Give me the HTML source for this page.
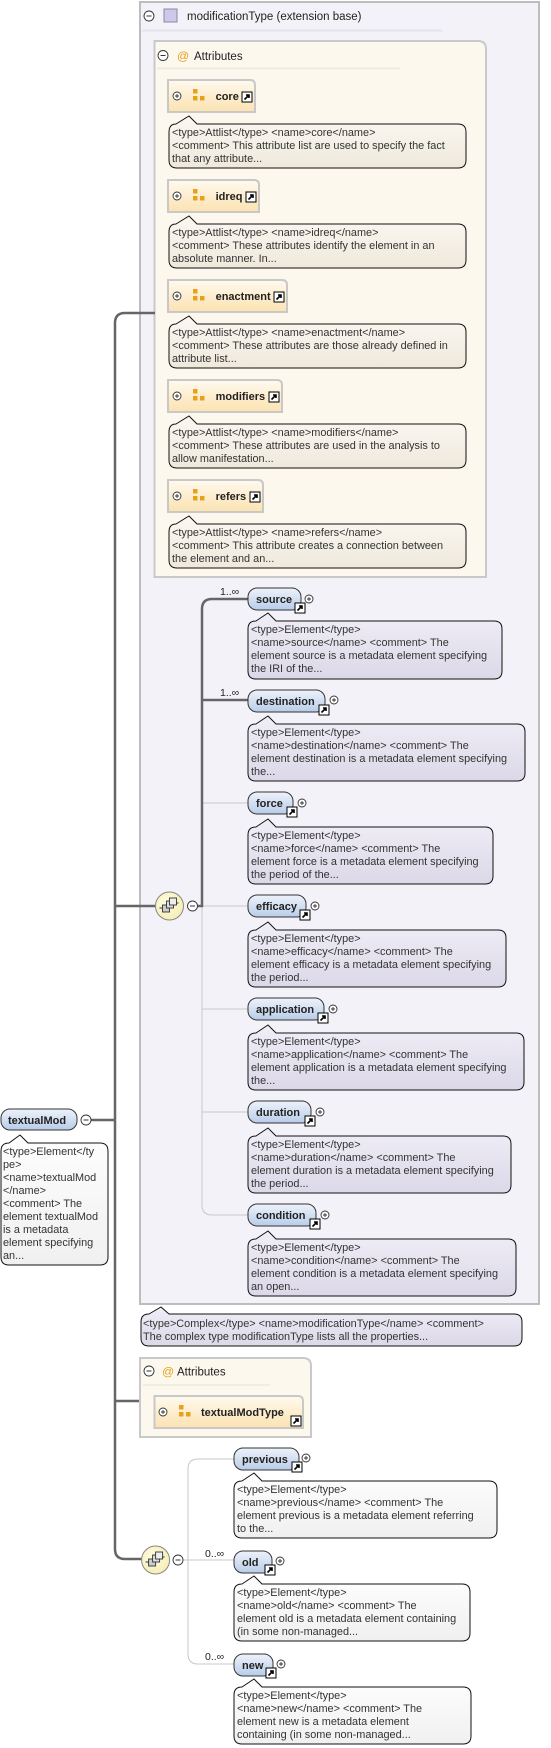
<!DOCTYPE html>
<html><head><meta charset="utf-8"><style>
html,body{margin:0;padding:0;background:#fff;}
svg{display:block;}
text{font-family:"Liberation Sans",sans-serif;}
.c{font-size:10.9px;fill:#333;}
.n{font-size:11px;font-weight:bold;fill:#222;}
</style></head><body>
<svg width="551" height="1748" viewBox="0 0 551 1748" xmlns="http://www.w3.org/2000/svg">
<defs>
<linearGradient id="eg" x1="0" y1="0" x2="0" y2="1"><stop offset="0" stop-color="#eef3fb"/><stop offset="1" stop-color="#b8cce8"/></linearGradient>
<linearGradient id="ag" x1="0" y1="0" x2="0" y2="1"><stop offset="0" stop-color="#fffaf0"/><stop offset="1" stop-color="#fbe2b0"/></linearGradient>
<linearGradient id="lc" x1="0" y1="0" x2="0" y2="1"><stop offset="0" stop-color="#f0eef7"/><stop offset="1" stop-color="#dcd8e8"/></linearGradient>
<linearGradient id="cc" x1="0" y1="0" x2="0" y2="1"><stop offset="0" stop-color="#fbf8f2"/><stop offset="1" stop-color="#efe9dc"/></linearGradient>
<linearGradient id="wc" x1="0" y1="0" x2="0" y2="1"><stop offset="0" stop-color="#fefefe"/><stop offset="1" stop-color="#f0f0f0"/></linearGradient>
<radialGradient id="sq" cx="0.4" cy="0.4" r="0.7"><stop offset="0" stop-color="#fffde0"/><stop offset="1" stop-color="#f3ecb0"/></radialGradient>
<g id="arr"><rect x="0" y="0" width="10" height="10" fill="#fff" stroke="#000" stroke-width="1"/><path d="M2.5 7.5 L7 3 M4 3 H7 V6" stroke="#000" stroke-width="1.6" fill="none"/></g>
<g id="plus"><circle cx="0" cy="0" r="4" fill="#fff" stroke="#333" stroke-width="0.9"/><path d="M-2 0H2M0 -2V2" stroke="#333" stroke-width="0.9"/></g>
<g id="minus"><circle cx="0" cy="0" r="5" fill="#fff" stroke="#333" stroke-width="0.9"/><path d="M-2.5 0H2.5" stroke="#333" stroke-width="1"/></g>
<g id="aicon"><rect x="0" y="0" width="4.5" height="4.5" fill="#e8a21a"/><rect x="0" y="7" width="4.5" height="4.5" fill="#e8a21a"/><rect x="7" y="7" width="4.5" height="4.5" fill="#e8a21a"/></g>
<g id="seq"><circle cx="0" cy="0" r="14" fill="url(#sq)" stroke="#888" stroke-width="1"/><path d="M-10 2H-7M6 -3H9" stroke="#333" stroke-width="1"/><rect x="-7" y="-1" width="7" height="7" fill="#ccc" stroke="#333" stroke-width="0.9"/><rect x="-3" y="-5" width="7" height="7" fill="#ddd" stroke="#333" stroke-width="0.9"/><rect x="0" y="-8" width="7" height="7" fill="#eee" stroke="#333" stroke-width="0.9"/></g>
</defs>

<rect x="140" y="2" width="399" height="1302" fill="#f4f2f9" stroke="#bdbdbd" stroke-width="2"/>
<use href="#minus" x="149" y="16"/>
<rect x="164" y="9" width="13" height="13" fill="#cfc8ea" stroke="#8c86a8" stroke-width="1"/>
<text x="187" y="20" style="font-size:11.5px;fill:#222">modificationType (extension base)</text>
<line x1="142" y1="30.5" x2="442" y2="30.5" stroke="#e4e2ea" stroke-width="2"/>

<path d="M154.5 41 H478 Q486 41 486 49 V577 H154.5 Z" fill="#fdf8ee" stroke="#c9c9c9" stroke-width="2"/>
<use href="#minus" x="163" y="55.5"/>
<text x="177" y="60" style="font-size:12px;fill:#e8a21a">@</text>
<text x="194" y="60" style="font-size:11.5px;fill:#222">Attributes</text>
<line x1="157" y1="68.5" x2="400" y2="68.5" stroke="#eee9de" stroke-width="1.5"/>

<g>
<path d="M168 80 H250 Q255 80 255 85 V112 H168 Z" fill="url(#ag)" stroke="#c8c8c8" stroke-width="2"/>
<use href="#plus" x="177" y="96"/><use href="#aicon" x="193" y="89"/>
<text x="215.6" y="100" class="n">core</text><use href="#arr" x="242" y="92"/>
<path d="M176 124 L189 116 L197 124 H458 Q466 124 466 132 V160 Q466 168 458 168 H177 Q169 168 169 160 V132 Q169 124 176 124 Z" fill="url(#cc)" stroke="#111" stroke-width="1"/>
<text class="c"><tspan x="172" y="136">&lt;type&gt;Attlist&lt;/type&gt; &lt;name&gt;core&lt;/name&gt;</tspan><tspan x="172" y="149">&lt;comment&gt; This attribute list are used to specify the fact</tspan><tspan x="172" y="162">that any attribute...</tspan></text>
</g>
<g transform="translate(0,100)">
<path d="M168 80 H254 Q259 80 259 85 V112 H168 Z" fill="url(#ag)" stroke="#c8c8c8" stroke-width="2"/>
<use href="#plus" x="177" y="96"/><use href="#aicon" x="193" y="89"/>
<text x="215.6" y="100" class="n">idreq</text><use href="#arr" x="246" y="92"/>
<path d="M176 124 L189 116 L197 124 H458 Q466 124 466 132 V160 Q466 168 458 168 H177 Q169 168 169 160 V132 Q169 124 176 124 Z" fill="url(#cc)" stroke="#111" stroke-width="1"/>
<text class="c"><tspan x="172" y="136">&lt;type&gt;Attlist&lt;/type&gt; &lt;name&gt;idreq&lt;/name&gt;</tspan><tspan x="172" y="149">&lt;comment&gt; These attributes identify the element in an</tspan><tspan x="172" y="162">absolute manner. In...</tspan></text>
</g>
<g transform="translate(0,200)">
<path d="M168 80 H282 Q287 80 287 85 V112 H168 Z" fill="url(#ag)" stroke="#c8c8c8" stroke-width="2"/>
<use href="#plus" x="177" y="96"/><use href="#aicon" x="193" y="89"/>
<text x="215.6" y="100" class="n">enactment</text><use href="#arr" x="274" y="92"/>
<path d="M176 124 L189 116 L197 124 H458 Q466 124 466 132 V160 Q466 168 458 168 H177 Q169 168 169 160 V132 Q169 124 176 124 Z" fill="url(#cc)" stroke="#111" stroke-width="1"/>
<text class="c"><tspan x="172" y="136">&lt;type&gt;Attlist&lt;/type&gt; &lt;name&gt;enactment&lt;/name&gt;</tspan><tspan x="172" y="149">&lt;comment&gt; These attributes are those already defined in</tspan><tspan x="172" y="162">attribute list...</tspan></text>
</g>
<g transform="translate(0,300)">
<path d="M168 80 H277 Q282 80 282 85 V112 H168 Z" fill="url(#ag)" stroke="#c8c8c8" stroke-width="2"/>
<use href="#plus" x="177" y="96"/><use href="#aicon" x="193" y="89"/>
<text x="215.6" y="100" class="n">modifiers</text><use href="#arr" x="269" y="92"/>
<path d="M176 124 L189 116 L197 124 H458 Q466 124 466 132 V160 Q466 168 458 168 H177 Q169 168 169 160 V132 Q169 124 176 124 Z" fill="url(#cc)" stroke="#111" stroke-width="1"/>
<text class="c"><tspan x="172" y="136">&lt;type&gt;Attlist&lt;/type&gt; &lt;name&gt;modifiers&lt;/name&gt;</tspan><tspan x="172" y="149">&lt;comment&gt; These attributes are used in the analysis to</tspan><tspan x="172" y="162">allow manifestation...</tspan></text>
</g>
<g transform="translate(0,400)">
<path d="M168 80 H258 Q263 80 263 85 V112 H168 Z" fill="url(#ag)" stroke="#c8c8c8" stroke-width="2"/>
<use href="#plus" x="177" y="96"/><use href="#aicon" x="193" y="89"/>
<text x="215.6" y="100" class="n">refers</text><use href="#arr" x="250" y="92"/>
<path d="M176 124 L189 116 L197 124 H458 Q466 124 466 132 V160 Q466 168 458 168 H177 Q169 168 169 160 V132 Q169 124 176 124 Z" fill="url(#cc)" stroke="#111" stroke-width="1"/>
<text class="c"><tspan x="172" y="136">&lt;type&gt;Attlist&lt;/type&gt; &lt;name&gt;refers&lt;/name&gt;</tspan><tspan x="172" y="149">&lt;comment&gt; This attribute creates a connection between</tspan><tspan x="172" y="162">the element and an...</tspan></text>
</g>

<path d="M155 313 H125 Q115 313 115 323 V1549 Q115 1559 125 1559 H142 M115 906 H156 M115 1401 H140 M87 1120 H115" fill="none" stroke="#666" stroke-width="2.5"/>

<path d="M202 906 V1205 Q202 1215 212 1215 H248 M202 803 H248 M202 906 H248 M202 1009 H248 M202 1112 H248" fill="none" stroke="#c8c8c8" stroke-width="1"/>
<path d="M197 906 H202 V609 Q202 599 212 599 H248 M202 700 H248" fill="none" stroke="#666" stroke-width="2.5"/>
<use href="#seq" x="169.5" y="906"/>
<use href="#minus" x="192.5" y="906"/>
<text x="220" y="595" style="font-size:10.5px;fill:#222">1..∞</text>
<text x="220" y="696" style="font-size:10.5px;fill:#222">1..∞</text>

<rect x="248" y="588" width="53" height="22" rx="9" fill="url(#eg)" stroke="#333" stroke-width="1"/>
<text x="256" y="603" class="n">source</text><use href="#arr" x="295" y="603"/><use href="#plus" x="309" y="599"/>
<path d="M256 621 L268 613 L276 621 H494 Q502 621 502 629 V671 Q502 679 494 679 H256 Q248 679 248 671 V629 Q248 621 256 621 Z" fill="url(#lc)" stroke="#111"/>
<text class="c"><tspan x="251" y="633">&lt;type&gt;Element&lt;/type&gt;</tspan><tspan x="251" y="646">&lt;name&gt;source&lt;/name&gt; &lt;comment&gt; The</tspan><tspan x="251" y="659">element source is a metadata element specifying</tspan><tspan x="251" y="672">the IRI of the...</tspan></text>
<rect x="248" y="690" width="77" height="22" rx="9" fill="url(#eg)" stroke="#333"/>
<text x="256" y="705" class="n">destination</text><use href="#arr" x="319" y="705"/><use href="#plus" x="334" y="700"/>
<path d="M256 724 L268 716 L276 724 H517 Q525 724 525 732 V773 Q525 781 517 781 H256 Q248 781 248 773 V732 Q248 724 256 724 Z" fill="url(#lc)" stroke="#111"/>
<text class="c"><tspan x="251" y="736">&lt;type&gt;Element&lt;/type&gt;</tspan><tspan x="251" y="749">&lt;name&gt;destination&lt;/name&gt; &lt;comment&gt; The</tspan><tspan x="251" y="762">element destination is a metadata element specifying</tspan><tspan x="251" y="775">the...</tspan></text>
<rect x="248" y="792" width="45" height="22" rx="9" fill="url(#eg)" stroke="#333"/>
<text x="256" y="807" class="n">force</text><use href="#arr" x="287" y="807"/><use href="#plus" x="302" y="803"/>
<path d="M256 827 L268 819 L276 827 H485 Q493 827 493 835 V876 Q493 884 485 884 H256 Q248 884 248 876 V835 Q248 827 256 827 Z" fill="url(#lc)" stroke="#111"/>
<text class="c"><tspan x="251" y="839">&lt;type&gt;Element&lt;/type&gt;</tspan><tspan x="251" y="852">&lt;name&gt;force&lt;/name&gt; &lt;comment&gt; The</tspan><tspan x="251" y="865">element force is a metadata element specifying</tspan><tspan x="251" y="878">the period of the...</tspan></text>
<rect x="248" y="895" width="58" height="22" rx="9" fill="url(#eg)" stroke="#333"/>
<text x="256" y="910" class="n">efficacy</text><use href="#arr" x="300" y="910"/><use href="#plus" x="315" y="906"/>
<path d="M256 930 L268 922 L276 930 H498 Q506 930 506 938 V979 Q506 987 498 987 H256 Q248 987 248 979 V938 Q248 930 256 930 Z" fill="url(#lc)" stroke="#111"/>
<text class="c"><tspan x="251" y="942">&lt;type&gt;Element&lt;/type&gt;</tspan><tspan x="251" y="955">&lt;name&gt;efficacy&lt;/name&gt; &lt;comment&gt; The</tspan><tspan x="251" y="968">element efficacy is a metadata element specifying</tspan><tspan x="251" y="981">the period...</tspan></text>
<rect x="248" y="998" width="76" height="22" rx="9" fill="url(#eg)" stroke="#333"/>
<text x="256" y="1013" class="n">application</text><use href="#arr" x="318" y="1013"/><use href="#plus" x="333" y="1009"/>
<path d="M256 1033 L268 1025 L276 1033 H516 Q524 1033 524 1041 V1082 Q524 1090 516 1090 H256 Q248 1090 248 1082 V1041 Q248 1033 256 1033 Z" fill="url(#lc)" stroke="#111"/>
<text class="c"><tspan x="251" y="1045">&lt;type&gt;Element&lt;/type&gt;</tspan><tspan x="251" y="1058">&lt;name&gt;application&lt;/name&gt; &lt;comment&gt; The</tspan><tspan x="251" y="1071">element application is a metadata element specifying</tspan><tspan x="251" y="1084">the...</tspan></text>
<rect x="248" y="1101" width="63" height="22" rx="9" fill="url(#eg)" stroke="#333"/>
<text x="256" y="1116" class="n">duration</text><use href="#arr" x="305" y="1116"/><use href="#plus" x="320" y="1112"/>
<path d="M256 1136 L268 1128 L276 1136 H503 Q511 1136 511 1144 V1185 Q511 1193 503 1193 H256 Q248 1193 248 1185 V1144 Q248 1136 256 1136 Z" fill="url(#lc)" stroke="#111"/>
<text class="c"><tspan x="251" y="1148">&lt;type&gt;Element&lt;/type&gt;</tspan><tspan x="251" y="1161">&lt;name&gt;duration&lt;/name&gt; &lt;comment&gt; The</tspan><tspan x="251" y="1174">element duration is a metadata element specifying</tspan><tspan x="251" y="1187">the period...</tspan></text>
<rect x="248" y="1204" width="68" height="22" rx="9" fill="url(#eg)" stroke="#333"/>
<text x="256" y="1219" class="n">condition</text><use href="#arr" x="310" y="1219"/><use href="#plus" x="325" y="1215"/>
<path d="M256 1239 L268 1231 L276 1239 H508 Q516 1239 516 1247 V1288 Q516 1296 508 1296 H256 Q248 1296 248 1288 V1247 Q248 1239 256 1239 Z" fill="url(#lc)" stroke="#111"/>
<text class="c"><tspan x="251" y="1251">&lt;type&gt;Element&lt;/type&gt;</tspan><tspan x="251" y="1264">&lt;name&gt;condition&lt;/name&gt; &lt;comment&gt; The</tspan><tspan x="251" y="1277">element condition is a metadata element specifying</tspan><tspan x="251" y="1290">an open...</tspan></text>

<path d="M149 1314 L161 1307 L169 1314 H514 Q522 1314 522 1322 V1338 Q522 1346 514 1346 H149 Q141 1346 141 1338 V1322 Q141 1314 149 1314 Z" fill="url(#lc)" stroke="#111"/>
<text class="c"><tspan x="143" y="1327">&lt;type&gt;Complex&lt;/type&gt; &lt;name&gt;modificationType&lt;/name&gt; &lt;comment&gt;</tspan><tspan x="143" y="1340">The complex type modificationType lists all the properties...</tspan></text>

<path d="M140 1358 H303 Q311 1358 311 1366 V1437 H140 Z" fill="#fdf8ee" stroke="#c9c9c9" stroke-width="2"/>
<use href="#minus" x="149" y="1371"/>
<text x="162" y="1375.5" style="font-size:12px;fill:#e8a21a">@</text>
<text x="177" y="1375.5" style="font-size:11.5px;fill:#222">Attributes</text>
<line x1="143" y1="1385" x2="270" y2="1385" stroke="#eee9de" stroke-width="1.5"/>
<path d="M154.5 1396 H298 Q303 1396 303 1401 V1428 H154.5 Z" fill="url(#ag)" stroke="#c8c8c8" stroke-width="2"/>
<use href="#plus" x="163" y="1412"/><use href="#aicon" x="179" y="1405"/>
<text x="201" y="1416" class="n">textualModType</text><use href="#arr" x="291" y="1416"/>

<path d="M183 1560 H188 M234 1459 H198 Q188 1459 188 1469 V1654 Q188 1664 198 1664 H234 M188 1560 H234" fill="none" stroke="#c8c8c8" stroke-width="1"/>
<use href="#seq" x="155.6" y="1560"/>
<use href="#minus" x="178" y="1560"/>
<text x="205" y="1557" style="font-size:10.5px;fill:#222">0..∞</text>
<text x="205" y="1660" style="font-size:10.5px;fill:#222">0..∞</text>

<rect x="234" y="1448" width="65" height="22" rx="9" fill="url(#eg)" stroke="#333"/>
<text x="242" y="1463" class="n">previous</text><use href="#arr" x="292" y="1462"/><use href="#plus" x="306" y="1458"/>
<path d="M242 1481 L254 1473 L262 1481 H489 Q497 1481 497 1489 V1530 Q497 1538 489 1538 H242 Q234 1538 234 1530 V1489 Q234 1481 242 1481 Z" fill="url(#wc)" stroke="#111"/>
<text class="c"><tspan x="237" y="1493">&lt;type&gt;Element&lt;/type&gt;</tspan><tspan x="237" y="1506">&lt;name&gt;previous&lt;/name&gt; &lt;comment&gt; The</tspan><tspan x="237" y="1519">element previous is a metadata element referring</tspan><tspan x="237" y="1532">to the...</tspan></text>

<rect x="234" y="1551" width="38" height="22" rx="9" fill="url(#eg)" stroke="#333"/>
<text x="242" y="1566" class="n">old</text><use href="#arr" x="265" y="1565"/><use href="#plus" x="280" y="1561"/>
<path d="M242 1584 L254 1576 L262 1584 H462 Q470 1584 470 1592 V1633 Q470 1641 462 1641 H242 Q234 1641 234 1633 V1592 Q234 1584 242 1584 Z" fill="url(#wc)" stroke="#111"/>
<text class="c"><tspan x="237" y="1596">&lt;type&gt;Element&lt;/type&gt;</tspan><tspan x="237" y="1609">&lt;name&gt;old&lt;/name&gt; &lt;comment&gt; The</tspan><tspan x="237" y="1622">element old is a metadata element containing</tspan><tspan x="237" y="1635">(in some non-managed...</tspan></text>

<rect x="234" y="1654" width="39" height="22" rx="9" fill="url(#eg)" stroke="#333"/>
<text x="242" y="1669" class="n">new</text><use href="#arr" x="266" y="1668"/><use href="#plus" x="281" y="1664"/>
<path d="M242 1687 L254 1679 L262 1687 H463 Q471 1687 471 1695 V1736 Q471 1744 463 1744 H242 Q234 1744 234 1736 V1695 Q234 1687 242 1687 Z" fill="url(#wc)" stroke="#111"/>
<text class="c"><tspan x="237" y="1699">&lt;type&gt;Element&lt;/type&gt;</tspan><tspan x="237" y="1712">&lt;name&gt;new&lt;/name&gt; &lt;comment&gt; The</tspan><tspan x="237" y="1725">element new is a metadata element</tspan><tspan x="237" y="1738">containing (in some non-managed...</tspan></text>

<rect x="1" y="1109" width="76" height="21" rx="9" fill="url(#eg)" stroke="#333"/>
<text x="8" y="1124" class="n">textualMod</text>
<use href="#minus" x="86" y="1120"/>
<path d="M9 1143 L20 1135 L28 1143 H100 Q108 1143 108 1151 V1257 Q108 1265 100 1265 H9 Q1 1265 1 1257 V1151 Q1 1143 9 1143 Z" fill="url(#wc)" stroke="#111"/>
<text class="c"><tspan x="3" y="1155">&lt;type&gt;Element&lt;/ty</tspan><tspan x="3" y="1168">pe&gt;</tspan><tspan x="3" y="1181">&lt;name&gt;textualMod</tspan><tspan x="3" y="1194">&lt;/name&gt;</tspan><tspan x="3" y="1207">&lt;comment&gt; The</tspan><tspan x="3" y="1220">element textualMod</tspan><tspan x="3" y="1233">is a metadata</tspan><tspan x="3" y="1246">element specifying</tspan><tspan x="3" y="1259">an...</tspan></text>
</svg>
</body></html>
